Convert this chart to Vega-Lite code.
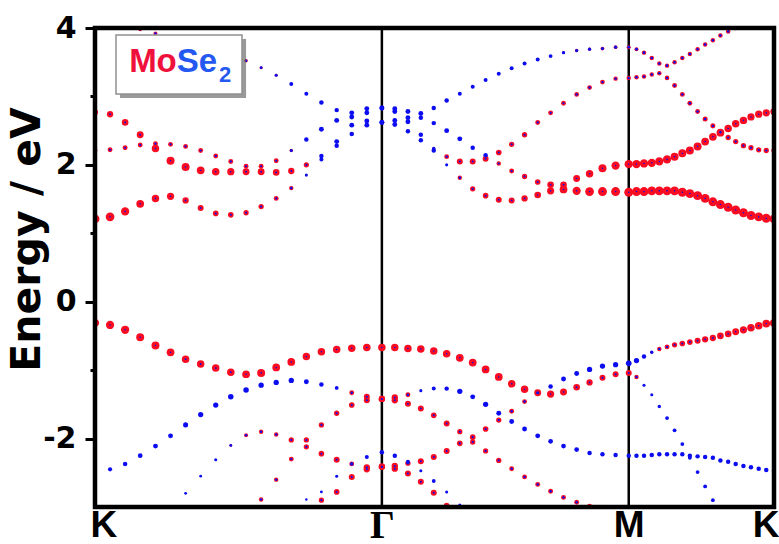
{
"$schema":"https://vega.github.io/schema/vega-lite/v6.json",
"width":679,"height":479,
"autosize":{"type":"none"},
"padding":{"left":95,"top":28,"right":5,"bottom":37},
"background":"white",
"config":{"view":{"stroke":null},"font":"Liberation Sans"},
"resolve":{"axis":{"x":"independent","y":"independent"}},
"datasets":{
"kp":[{"i":0,"k":0},{"i":1,"k":0.070},{"i":2,"k":0.140},{"i":3,"k":0.210},{"i":4,"k":0.281},{"i":5,"k":0.351},{"i":6,"k":0.421},{"i":7,"k":0.491},{"i":8,"k":0.561},{"i":9,"k":0.631},{"i":10,"k":0.702},{"i":11,"k":0.772},{"i":12,"k":0.842},{"i":13,"k":0.912},{"i":14,"k":0.982},{"i":15,"k":1.052},{"i":16,"k":1.123},{"i":17,"k":1.193},{"i":18,"k":1.263},{"i":19,"k":1.333},{"i":20,"k":1.393},{"i":21,"k":1.454},{"i":22,"k":1.514},{"i":23,"k":1.574},{"i":24,"k":1.634},{"i":25,"k":1.695},{"i":26,"k":1.755},{"i":27,"k":1.815},{"i":28,"k":1.876},{"i":29,"k":1.936},{"i":30,"k":1.996},{"i":31,"k":2.057},{"i":32,"k":2.117},{"i":33,"k":2.177},{"i":34,"k":2.238},{"i":35,"k":2.298},{"i":36,"k":2.358},{"i":37,"k":2.419},{"i":38,"k":2.480},{"i":39,"k":2.516},{"i":40,"k":2.551},{"i":41,"k":2.587},{"i":42,"k":2.622},{"i":43,"k":2.658},{"i":44,"k":2.693},{"i":45,"k":2.729},{"i":46,"k":2.764},{"i":47,"k":2.800},{"i":48,"k":2.835},{"i":49,"k":2.871},{"i":50,"k":2.906},{"i":51,"k":2.942},{"i":52,"k":2.977},{"i":53,"k":3.013},{"i":54,"k":3.048},{"i":55,"k":3.084},{"i":56,"k":3.119},{"i":57,"k":3.155}],
"sym":[{"k":1.333},{"k":2.48}],
"bands":[
{"b":"C1","i":0,"e":1.21,"m":1,"s":0.03},{"b":"C1","i":1,"e":1.24,"m":0.95,"s":0.03},{"b":"C1","i":2,"e":1.32,"m":0.85,"s":0.03},{"b":"C1","i":3,"e":1.43,"m":0.75,"s":0.03},{"b":"C1","i":4,"e":1.51,"m":0.7,"s":0.03},{"b":"C1","i":5,"e":1.54,"m":0.65,"s":0.03},{"b":"C1","i":6,"e":1.48,"m":0.5,"s":0.04},{"b":"C1","i":7,"e":1.37,"m":0.45,"s":0.04},{"b":"C1","i":8,"e":1.29,"m":0.4,"s":0.05},{"b":"C1","i":9,"e":1.27,"m":0.4,"s":0.05},{"b":"C1","i":10,"e":1.30,"m":0.35,"s":0.05},{"b":"C1","i":11,"e":1.39,"m":0.35,"s":0.06},{"b":"C1","i":12,"e":1.51,"m":0.3,"s":0.06},{"b":"C1","i":13,"e":1.66,"m":0.25,"s":0.08},{"b":"C1","i":14,"e":1.85,"m":0.05,"s":0.12},{"b":"C1","i":15,"e":2.08,"m":0,"s":0.2},{"b":"C1","i":16,"e":2.28,"m":0,"s":0.25},{"b":"C1","i":17,"e":2.45,"m":0,"s":0.25},{"b":"C1","i":18,"e":2.58,"m":0,"s":0.3},{"b":"C1","i":19,"e":2.62,"m":0,"s":0.3},{"b":"C1","i":20,"e":2.59,"m":0,"s":0.3},{"b":"C1","i":21,"e":2.49,"m":0,"s":0.25},{"b":"C1","i":22,"e":2.36,"m":0,"s":0.25},{"b":"C1","i":23,"e":2.21,"m":0,"s":0.25},{"b":"C1","i":24,"e":2.00,"m":0,"s":0.12},{"b":"C1","i":25,"e":1.81,"m":0.25,"s":0.08},{"b":"C1","i":26,"e":1.65,"m":0.35,"s":0.06},{"b":"C1","i":27,"e":1.55,"m":0.4,"s":0.05},{"b":"C1","i":28,"e":1.49,"m":0.45,"s":0.04},{"b":"C1","i":29,"e":1.48,"m":0.45,"s":0.04},{"b":"C1","i":30,"e":1.51,"m":0.5,"s":0.04},{"b":"C1","i":31,"e":1.56,"m":0.55,"s":0.03},{"b":"C1","i":32,"e":1.62,"m":0.65,"s":0.03},{"b":"C1","i":33,"e":1.64,"m":0.75,"s":0.03},{"b":"C1","i":34,"e":1.62,"m":0.85,"s":0.03},{"b":"C1","i":35,"e":1.61,"m":0.95,"s":0.03},{"b":"C1","i":36,"e":1.61,"m":1,"s":0.03},{"b":"C1","i":37,"e":1.61,"m":1,"s":0.03},{"b":"C1","i":38,"e":1.60,"m":1,"s":0.03},{"b":"C1","i":39,"e":1.61,"m":1,"s":0.03},{"b":"C1","i":40,"e":1.61,"m":1,"s":0.03},{"b":"C1","i":41,"e":1.62,"m":1,"s":0.03},{"b":"C1","i":42,"e":1.62,"m":1,"s":0.03},{"b":"C1","i":43,"e":1.62,"m":1,"s":0.03},{"b":"C1","i":44,"e":1.62,"m":1,"s":0.03},{"b":"C1","i":45,"e":1.60,"m":1,"s":0.03},{"b":"C1","i":46,"e":1.58,"m":1,"s":0.03},{"b":"C1","i":47,"e":1.55,"m":1,"s":0.03},{"b":"C1","i":48,"e":1.51,"m":1,"s":0.03},{"b":"C1","i":49,"e":1.46,"m":1,"s":0.03},{"b":"C1","i":50,"e":1.42,"m":1,"s":0.03},{"b":"C1","i":51,"e":1.38,"m":1,"s":0.03},{"b":"C1","i":52,"e":1.34,"m":1,"s":0.03},{"b":"C1","i":53,"e":1.30,"m":1,"s":0.03},{"b":"C1","i":54,"e":1.26,"m":1,"s":0.03},{"b":"C1","i":55,"e":1.24,"m":1,"s":0.03},{"b":"C1","i":56,"e":1.22,"m":1,"s":0.03},{"b":"C1","i":57,"e":1.21,"m":1,"s":0.03},
{"b":"C2","i":0,"e":2.77,"m":0.45,"s":0.04},{"b":"C2","i":1,"e":2.74,"m":0.5,"s":0.04},{"b":"C2","i":2,"e":2.62,"m":0.55,"s":0.04},{"b":"C2","i":3,"e":2.44,"m":0.6,"s":0.04},{"b":"C2","i":4,"e":2.24,"m":0.7,"s":0.03},{"b":"C2","i":5,"e":2.06,"m":0.8,"s":0.03},{"b":"C2","i":6,"e":1.97,"m":0.8,"s":0.03},{"b":"C2","i":7,"e":1.92,"m":0.75,"s":0.03},{"b":"C2","i":8,"e":1.90,"m":0.7,"s":0.03},{"b":"C2","i":9,"e":1.90,"m":0.65,"s":0.03},{"b":"C2","i":10,"e":1.90,"m":0.6,"s":0.04},{"b":"C2","i":11,"e":1.90,"m":0.6,"s":0.04},{"b":"C2","i":12,"e":1.89,"m":0.55,"s":0.04},{"b":"C2","i":13,"e":1.91,"m":0.5,"s":0.04},{"b":"C2","i":14,"e":2.00,"m":0.35,"s":0.06},{"b":"C2","i":15,"e":2.13,"m":0,"s":0.25},{"b":"C2","i":16,"e":2.34,"m":0,"s":0.3},{"b":"C2","i":17,"e":2.58,"m":0,"s":0.3},{"b":"C2","i":18,"e":2.64,"m":0,"s":0.3},{"b":"C2","i":19,"e":2.62,"m":0,"s":0.3},{"b":"C2","i":20,"e":2.65,"m":0,"s":0.3},{"b":"C2","i":21,"e":2.63,"m":0,"s":0.3},{"b":"C2","i":22,"e":2.44,"m":0,"s":0.25},{"b":"C2","i":23,"e":2.24,"m":0.1,"s":0.15},{"b":"C2","i":24,"e":2.12,"m":0.3,"s":0.07},{"b":"C2","i":25,"e":2.05,"m":0.45,"s":0.05},{"b":"C2","i":26,"e":2.05,"m":0.45,"s":0.05},{"b":"C2","i":27,"e":2.09,"m":0.45,"s":0.05},{"b":"C2","i":28,"e":2.18,"m":0.4,"s":0.05},{"b":"C2","i":29,"e":2.30,"m":0.35,"s":0.06},{"b":"C2","i":30,"e":2.44,"m":0.35,"s":0.06},{"b":"C2","i":31,"e":2.62,"m":0.3,"s":0.06},{"b":"C2","i":32,"e":2.76,"m":0.3,"s":0.06},{"b":"C2","i":33,"e":2.90,"m":0.3,"s":0.06},{"b":"C2","i":34,"e":3.03,"m":0.28,"s":0.07},{"b":"C2","i":35,"e":3.13,"m":0.28,"s":0.07},{"b":"C2","i":36,"e":3.21,"m":0.28,"s":0.07},{"b":"C2","i":37,"e":3.26,"m":0.25,"s":0.07},{"b":"C2","i":38,"e":3.27,"m":0.25,"s":0.07},{"b":"C2","i":39,"e":3.28,"m":0.25,"s":0.07},{"b":"C2","i":40,"e":3.29,"m":0.25,"s":0.07},{"b":"C2","i":41,"e":3.32,"m":0.25,"s":0.07},{"b":"C2","i":42,"e":3.34,"m":0.25,"s":0.07},{"b":"C2","i":43,"e":3.27,"m":0.28,"s":0.07},{"b":"C2","i":44,"e":3.16,"m":0.3,"s":0.07},{"b":"C2","i":45,"e":3.03,"m":0.3,"s":0.07},{"b":"C2","i":46,"e":2.90,"m":0.3,"s":0.07},{"b":"C2","i":47,"e":2.78,"m":0.3,"s":0.07},{"b":"C2","i":48,"e":2.67,"m":0.32,"s":0.07},{"b":"C2","i":49,"e":2.57,"m":0.32,"s":0.07},{"b":"C2","i":50,"e":2.48,"m":0.32,"s":0.07},{"b":"C2","i":51,"e":2.40,"m":0.35,"s":0.06},{"b":"C2","i":52,"e":2.34,"m":0.35,"s":0.06},{"b":"C2","i":53,"e":2.28,"m":0.35,"s":0.06},{"b":"C2","i":54,"e":2.25,"m":0.35,"s":0.06},{"b":"C2","i":55,"e":2.22,"m":0.35,"s":0.06},{"b":"C2","i":56,"e":2.21,"m":0.35,"s":0.06},{"b":"C2","i":57,"e":2.21,"m":0.35,"s":0.06},
{"b":"C3","i":0,"e":2.21,"m":0.3,"s":0.06},{"b":"C3","i":1,"e":2.22,"m":0.3,"s":0.06},{"b":"C3","i":2,"e":2.25,"m":0.3,"s":0.06},{"b":"C3","i":3,"e":2.29,"m":0.3,"s":0.06},{"b":"C3","i":4,"e":2.31,"m":0.3,"s":0.06},{"b":"C3","i":5,"e":2.30,"m":0.3,"s":0.06},{"b":"C3","i":6,"e":2.27,"m":0.3,"s":0.06},{"b":"C3","i":7,"e":2.21,"m":0.3,"s":0.06},{"b":"C3","i":8,"e":2.13,"m":0.3,"s":0.06},{"b":"C3","i":9,"e":2.05,"m":0.3,"s":0.06},{"b":"C3","i":10,"e":1.98,"m":0.3,"s":0.06},{"b":"C3","i":11,"e":1.98,"m":0.3,"s":0.06},{"b":"C3","i":12,"e":2.06,"m":0.3,"s":0.06},{"b":"C3","i":13,"e":2.21,"m":0.15,"s":0.12},{"b":"C3","i":14,"e":2.37,"m":0,"s":0.25},{"b":"C3","i":15,"e":2.52,"m":0,"s":0.3},{"b":"C3","i":16,"e":2.65,"m":0,"s":0.3},{"b":"C3","i":17,"e":2.70,"m":0,"s":0.3},{"b":"C3","i":18,"e":2.76,"m":0,"s":0.3},{"b":"C3","i":19,"e":2.83,"m":0,"s":0.3},{"b":"C3","i":20,"e":2.78,"m":0,"s":0.3},{"b":"C3","i":21,"e":2.69,"m":0,"s":0.3},{"b":"C3","i":22,"e":2.69,"m":0,"s":0.25},{"b":"C3","i":23,"e":2.61,"m":0,"s":0.25},{"b":"C3","i":24,"e":2.50,"m":0,"s":0.3},{"b":"C3","i":25,"e":2.38,"m":0,"s":0.3},{"b":"C3","i":26,"e":2.25,"m":0,"s":0.25},{"b":"C3","i":27,"e":2.14,"m":0,"s":0.25},{"b":"C3","i":28,"e":2.02,"m":0.25,"s":0.06},{"b":"C3","i":29,"e":1.91,"m":0.3,"s":0.06},{"b":"C3","i":30,"e":1.83,"m":0.35,"s":0.06},{"b":"C3","i":31,"e":1.75,"m":0.4,"s":0.05},{"b":"C3","i":32,"e":1.71,"m":0.55,"s":0.04},{"b":"C3","i":33,"e":1.71,"m":0.55,"s":0.04},{"b":"C3","i":34,"e":1.80,"m":0.6,"s":0.03},{"b":"C3","i":35,"e":1.87,"m":0.7,"s":0.03},{"b":"C3","i":36,"e":1.95,"m":0.8,"s":0.03},{"b":"C3","i":37,"e":1.99,"m":0.85,"s":0.03},{"b":"C3","i":38,"e":2.01,"m":0.85,"s":0.03},{"b":"C3","i":39,"e":2.01,"m":0.85,"s":0.03},{"b":"C3","i":40,"e":2.02,"m":0.85,"s":0.03},{"b":"C3","i":41,"e":2.03,"m":0.85,"s":0.03},{"b":"C3","i":42,"e":2.05,"m":0.85,"s":0.03},{"b":"C3","i":43,"e":2.08,"m":0.85,"s":0.03},{"b":"C3","i":44,"e":2.12,"m":0.8,"s":0.03},{"b":"C3","i":45,"e":2.17,"m":0.8,"s":0.03},{"b":"C3","i":46,"e":2.21,"m":0.8,"s":0.03},{"b":"C3","i":47,"e":2.27,"m":0.8,"s":0.03},{"b":"C3","i":48,"e":2.34,"m":0.75,"s":0.03},{"b":"C3","i":49,"e":2.41,"m":0.75,"s":0.03},{"b":"C3","i":50,"e":2.47,"m":0.75,"s":0.03},{"b":"C3","i":51,"e":2.53,"m":0.7,"s":0.03},{"b":"C3","i":52,"e":2.60,"m":0.7,"s":0.03},{"b":"C3","i":53,"e":2.65,"m":0.7,"s":0.03},{"b":"C3","i":54,"e":2.70,"m":0.65,"s":0.03},{"b":"C3","i":55,"e":2.74,"m":0.65,"s":0.03},{"b":"C3","i":56,"e":2.76,"m":0.65,"s":0.03},{"b":"C3","i":57,"e":2.78,"m":0.65,"s":0.03},
{"b":"C4","i":3,"e":3.98,"m":0.2,"s":0.07},{"b":"C4","i":4,"e":3.92,"m":0.2,"s":0.07},{"b":"C4","i":5,"e":3.85,"m":0.2,"s":0.07},{"b":"C4","i":6,"e":3.78,"m":0.2,"s":0.07},{"b":"C4","i":7,"e":3.70,"m":0.2,"s":0.07},{"b":"C4","i":8,"e":3.63,"m":0.2,"s":0.07},{"b":"C4","i":9,"e":3.58,"m":0.18,"s":0.08},{"b":"C4","i":10,"e":3.52,"m":0.15,"s":0.08},{"b":"C4","i":11,"e":3.42,"m":0.12,"s":0.1},{"b":"C4","i":12,"e":3.31,"m":0.1,"s":0.12},{"b":"C4","i":13,"e":3.18,"m":0,"s":0.2},{"b":"C4","i":14,"e":3.04,"m":0,"s":0.2},{"b":"C4","i":15,"e":2.91,"m":0,"s":0.25},{"b":"C4","i":16,"e":2.80,"m":0,"s":0.25},{"b":"C4","i":17,"e":2.76,"m":0,"s":0.3},{"b":"C4","i":18,"e":2.82,"m":0,"s":0.3},{"b":"C4","i":19,"e":2.83,"m":0,"s":0.3},{"b":"C4","i":20,"e":2.82,"m":0,"s":0.3},{"b":"C4","i":21,"e":2.78,"m":0,"s":0.3},{"b":"C4","i":22,"e":2.75,"m":0,"s":0.3},{"b":"C4","i":23,"e":2.83,"m":0,"s":0.25},{"b":"C4","i":24,"e":2.94,"m":0,"s":0.25},{"b":"C4","i":25,"e":3.04,"m":0,"s":0.2},{"b":"C4","i":26,"e":3.14,"m":0,"s":0.2},{"b":"C4","i":27,"e":3.24,"m":0,"s":0.2},{"b":"C4","i":28,"e":3.33,"m":0,"s":0.2},{"b":"C4","i":29,"e":3.41,"m":0,"s":0.2},{"b":"C4","i":30,"e":3.48,"m":0,"s":0.2},{"b":"C4","i":31,"e":3.54,"m":0,"s":0.2},{"b":"C4","i":32,"e":3.59,"m":0.05,"s":0.18},{"b":"C4","i":33,"e":3.64,"m":0.1,"s":0.15},{"b":"C4","i":34,"e":3.67,"m":0.15,"s":0.13},{"b":"C4","i":35,"e":3.69,"m":0.15,"s":0.13},{"b":"C4","i":36,"e":3.70,"m":0.18,"s":0.12},{"b":"C4","i":37,"e":3.72,"m":0.18,"s":0.12},{"b":"C4","i":38,"e":3.72,"m":0.2,"s":0.1},{"b":"C4","i":39,"e":3.69,"m":0.2,"s":0.1},{"b":"C4","i":40,"e":3.64,"m":0.25,"s":0.09},{"b":"C4","i":41,"e":3.56,"m":0.25,"s":0.08},{"b":"C4","i":42,"e":3.48,"m":0.25,"s":0.08},{"b":"C4","i":43,"e":3.45,"m":0.25,"s":0.08},{"b":"C4","i":44,"e":3.50,"m":0.25,"s":0.08},{"b":"C4","i":45,"e":3.56,"m":0.25,"s":0.08},{"b":"C4","i":46,"e":3.62,"m":0.25,"s":0.08},{"b":"C4","i":47,"e":3.69,"m":0.25,"s":0.08},{"b":"C4","i":48,"e":3.76,"m":0.25,"s":0.08},{"b":"C4","i":49,"e":3.82,"m":0.25,"s":0.08},{"b":"C4","i":50,"e":3.89,"m":0.25,"s":0.08},{"b":"C4","i":51,"e":3.95,"m":0.25,"s":0.08},{"b":"C4","i":52,"e":4.00,"m":0.25,"s":0.08},
{"b":"V1","i":0,"e":-0.31,"m":0.85,"s":0.03},{"b":"V1","i":1,"e":-0.34,"m":0.85,"s":0.03},{"b":"V1","i":2,"e":-0.41,"m":0.85,"s":0.03},{"b":"V1","i":3,"e":-0.52,"m":0.8,"s":0.03},{"b":"V1","i":4,"e":-0.64,"m":0.8,"s":0.03},{"b":"V1","i":5,"e":-0.74,"m":0.75,"s":0.03},{"b":"V1","i":6,"e":-0.84,"m":0.7,"s":0.04},{"b":"V1","i":7,"e":-0.91,"m":0.7,"s":0.04},{"b":"V1","i":8,"e":-0.97,"m":0.7,"s":0.04},{"b":"V1","i":9,"e":-1.03,"m":0.7,"s":0.04},{"b":"V1","i":10,"e":-1.06,"m":0.75,"s":0.03},{"b":"V1","i":11,"e":-1.04,"m":0.8,"s":0.03},{"b":"V1","i":12,"e":-0.96,"m":0.75,"s":0.03},{"b":"V1","i":13,"e":-0.88,"m":0.75,"s":0.03},{"b":"V1","i":14,"e":-0.80,"m":0.7,"s":0.03},{"b":"V1","i":15,"e":-0.73,"m":0.7,"s":0.03},{"b":"V1","i":16,"e":-0.70,"m":0.7,"s":0.03},{"b":"V1","i":17,"e":-0.68,"m":0.7,"s":0.03},{"b":"V1","i":18,"e":-0.67,"m":0.7,"s":0.03},{"b":"V1","i":19,"e":-0.67,"m":0.7,"s":0.03},{"b":"V1","i":20,"e":-0.67,"m":0.7,"s":0.03},{"b":"V1","i":21,"e":-0.685,"m":0.7,"s":0.03},{"b":"V1","i":22,"e":-0.69,"m":0.7,"s":0.03},{"b":"V1","i":23,"e":-0.72,"m":0.7,"s":0.03},{"b":"V1","i":24,"e":-0.76,"m":0.7,"s":0.03},{"b":"V1","i":25,"e":-0.82,"m":0.75,"s":0.03},{"b":"V1","i":26,"e":-0.89,"m":0.75,"s":0.03},{"b":"V1","i":27,"e":-0.99,"m":0.75,"s":0.03},{"b":"V1","i":28,"e":-1.10,"m":0.75,"s":0.03},{"b":"V1","i":29,"e":-1.20,"m":0.7,"s":0.03},{"b":"V1","i":30,"e":-1.28,"m":0.7,"s":0.03},{"b":"V1","i":31,"e":-1.33,"m":0.6,"s":0.04},{"b":"V1","i":32,"e":-1.35,"m":0.65,"s":0.03},{"b":"V1","i":33,"e":-1.32,"m":0.6,"s":0.03},{"b":"V1","i":34,"e":-1.25,"m":0.55,"s":0.04},{"b":"V1","i":35,"e":-1.18,"m":0.5,"s":0.04},{"b":"V1","i":36,"e":-1.11,"m":0.45,"s":0.05},{"b":"V1","i":37,"e":-1.06,"m":0.45,"s":0.05},{"b":"V1","i":38,"e":-1.04,"m":0.45,"s":0.05},{"b":"V1","i":39,"e":-1.10,"m":0.25,"s":0.07},{"b":"V1","i":40,"e":-1.22,"m":0,"s":0.12},{"b":"V1","i":41,"e":-1.36,"m":0,"s":0.12},{"b":"V1","i":42,"e":-1.53,"m":0,"s":0.15},{"b":"V1","i":43,"e":-1.70,"m":0,"s":0.18},{"b":"V1","i":44,"e":-1.88,"m":0,"s":0.18},{"b":"V1","i":45,"e":-2.08,"m":0,"s":0.18},{"b":"V1","i":46,"e":-2.28,"m":0,"s":0.18},{"b":"V1","i":47,"e":-2.49,"m":0,"s":0.18},{"b":"V1","i":48,"e":-2.70,"m":0,"s":0.18},{"b":"V1","i":49,"e":-2.90,"m":0,"s":0.18},
{"b":"V2","i":0,"e":-2.47,"m":0,"s":0.2},{"b":"V2","i":1,"e":-2.45,"m":0,"s":0.22},{"b":"V2","i":2,"e":-2.37,"m":0,"s":0.25},{"b":"V2","i":3,"e":-2.25,"m":0,"s":0.28},{"b":"V2","i":4,"e":-2.11,"m":0,"s":0.3},{"b":"V2","i":5,"e":-1.96,"m":0,"s":0.3},{"b":"V2","i":6,"e":-1.80,"m":0,"s":0.32},{"b":"V2","i":7,"e":-1.65,"m":0,"s":0.35},{"b":"V2","i":8,"e":-1.51,"m":0,"s":0.35},{"b":"V2","i":9,"e":-1.39,"m":0,"s":0.38},{"b":"V2","i":10,"e":-1.29,"m":0,"s":0.38},{"b":"V2","i":11,"e":-1.22,"m":0,"s":0.35},{"b":"V2","i":12,"e":-1.18,"m":0,"s":0.35},{"b":"V2","i":13,"e":-1.15,"m":0,"s":0.35},{"b":"V2","i":14,"e":-1.17,"m":0,"s":0.3},{"b":"V2","i":15,"e":-1.21,"m":0,"s":0.25},{"b":"V2","i":16,"e":-1.26,"m":0,"s":0.18},{"b":"V2","i":17,"e":-1.33,"m":0.3,"s":0.07},{"b":"V2","i":18,"e":-1.39,"m":0.45,"s":0.05},{"b":"V2","i":19,"e":-1.42,"m":0.5,"s":0.04},{"b":"V2","i":20,"e":-1.40,"m":0.5,"s":0.04},{"b":"V2","i":21,"e":-1.36,"m":0.3,"s":0.08},{"b":"V2","i":22,"e":-1.30,"m":0,"s":0.12},{"b":"V2","i":23,"e":-1.27,"m":0,"s":0.2},{"b":"V2","i":24,"e":-1.27,"m":0,"s":0.25},{"b":"V2","i":25,"e":-1.31,"m":0,"s":0.35},{"b":"V2","i":26,"e":-1.39,"m":0,"s":0.3},{"b":"V2","i":27,"e":-1.50,"m":0,"s":0.35},{"b":"V2","i":28,"e":-1.63,"m":0,"s":0.3},{"b":"V2","i":29,"e":-1.75,"m":0,"s":0.3},{"b":"V2","i":30,"e":-1.86,"m":0,"s":0.3},{"b":"V2","i":31,"e":-1.96,"m":0,"s":0.3},{"b":"V2","i":32,"e":-2.04,"m":0,"s":0.28},{"b":"V2","i":33,"e":-2.11,"m":0,"s":0.28},{"b":"V2","i":34,"e":-2.16,"m":0,"s":0.28},{"b":"V2","i":35,"e":-2.21,"m":0,"s":0.25},{"b":"V2","i":36,"e":-2.23,"m":0,"s":0.25},{"b":"V2","i":37,"e":-2.24,"m":0,"s":0.25},{"b":"V2","i":38,"e":-2.25,"m":0,"s":0.25},{"b":"V2","i":39,"e":-2.25,"m":0,"s":0.25},{"b":"V2","i":40,"e":-2.25,"m":0,"s":0.25},{"b":"V2","i":41,"e":-2.24,"m":0,"s":0.25},{"b":"V2","i":42,"e":-2.23,"m":0,"s":0.25},{"b":"V2","i":43,"e":-2.23,"m":0,"s":0.25},{"b":"V2","i":44,"e":-2.23,"m":0,"s":0.25},{"b":"V2","i":45,"e":-2.23,"m":0,"s":0.25},{"b":"V2","i":46,"e":-2.25,"m":0,"s":0.25},{"b":"V2","i":47,"e":-2.26,"m":0,"s":0.25},{"b":"V2","i":48,"e":-2.27,"m":0,"s":0.25},{"b":"V2","i":49,"e":-2.28,"m":0,"s":0.25},{"b":"V2","i":50,"e":-2.32,"m":0,"s":0.25},{"b":"V2","i":51,"e":-2.34,"m":0,"s":0.25},{"b":"V2","i":52,"e":-2.37,"m":0,"s":0.25},{"b":"V2","i":53,"e":-2.40,"m":0,"s":0.25},{"b":"V2","i":54,"e":-2.42,"m":0,"s":0.25},{"b":"V2","i":55,"e":-2.44,"m":0,"s":0.25},{"b":"V2","i":56,"e":-2.46,"m":0,"s":0.25},{"b":"V2","i":57,"e":-2.47,"m":0,"s":0.25},
{"b":"V4","i":11,"e":-2.89,"m":0.25,"s":0.07},{"b":"V4","i":12,"e":-2.60,"m":0.25,"s":0.07},{"b":"V4","i":13,"e":-2.30,"m":0.3,"s":0.06},{"b":"V4","i":14,"e":-2.02,"m":0.35,"s":0.05},{"b":"V4","i":15,"e":-1.80,"m":0.35,"s":0.06},{"b":"V4","i":16,"e":-1.63,"m":0.35,"s":0.06},{"b":"V4","i":17,"e":-1.51,"m":0.4,"s":0.05},{"b":"V4","i":18,"e":-1.44,"m":0.45,"s":0.05},{"b":"V4","i":19,"e":-1.42,"m":0.5,"s":0.04},{"b":"V4","i":20,"e":-1.44,"m":0.5,"s":0.04},{"b":"V4","i":21,"e":-1.49,"m":0.45,"s":0.04},{"b":"V4","i":22,"e":-1.56,"m":0.45,"s":0.04},{"b":"V4","i":23,"e":-1.66,"m":0.4,"s":0.05},{"b":"V4","i":24,"e":-1.78,"m":0.45,"s":0.04},{"b":"V4","i":25,"e":-1.90,"m":0.35,"s":0.06},{"b":"V4","i":26,"e":-2.05,"m":0.35,"s":0.06},{"b":"V4","i":27,"e":-2.18,"m":0.35,"s":0.06},{"b":"V4","i":28,"e":-2.32,"m":0.35,"s":0.06},{"b":"V4","i":29,"e":-2.44,"m":0.3,"s":0.07},{"b":"V4","i":30,"e":-2.56,"m":0.3,"s":0.07},{"b":"V4","i":31,"e":-2.67,"m":0.3,"s":0.07},{"b":"V4","i":32,"e":-2.77,"m":0.3,"s":0.07},{"b":"V4","i":33,"e":-2.86,"m":0.3,"s":0.07},{"b":"V4","i":34,"e":-2.93,"m":0.3,"s":0.07},{"b":"V4","i":35,"e":-2.99,"m":0.3,"s":0.07},{"b":"V4","i":36,"e":-3.02,"m":0.3,"s":0.07},
{"b":"V3","i":6,"e":-2.80,"m":0,"s":0.1},{"b":"V3","i":7,"e":-2.55,"m":0,"s":0.1},{"b":"V3","i":8,"e":-2.31,"m":0,"s":0.12},{"b":"V3","i":9,"e":-2.10,"m":0.1,"s":0.1},{"b":"V3","i":10,"e":-1.95,"m":0.2,"s":0.07},{"b":"V3","i":11,"e":-1.90,"m":0.25,"s":0.07},{"b":"V3","i":12,"e":-1.94,"m":0.25,"s":0.07},{"b":"V3","i":13,"e":-2.02,"m":0.35,"s":0.06},{"b":"V3","i":14,"e":-2.12,"m":0.35,"s":0.06},{"b":"V3","i":15,"e":-2.22,"m":0.4,"s":0.05},{"b":"V3","i":16,"e":-2.31,"m":0.45,"s":0.05},{"b":"V3","i":17,"e":-2.37,"m":0.3,"s":0.1},{"b":"V3","i":18,"e":-2.42,"m":0.5,"s":0.05},{"b":"V3","i":19,"e":-2.41,"m":0.5,"s":0.05},{"b":"V3","i":20,"e":-2.40,"m":0.5,"s":0.05},{"b":"V3","i":21,"e":-2.36,"m":0.35,"s":0.1},{"b":"V3","i":22,"e":-2.33,"m":0.45,"s":0.05},{"b":"V3","i":23,"e":-2.27,"m":0.45,"s":0.05},{"b":"V3","i":24,"e":-2.18,"m":0.45,"s":0.05},{"b":"V3","i":25,"e":-2.07,"m":0.4,"s":0.06},{"b":"V3","i":26,"e":-1.98,"m":0.4,"s":0.06},{"b":"V3","i":27,"e":-1.86,"m":0.4,"s":0.06},{"b":"V3","i":28,"e":-1.73,"m":0.35,"s":0.06},{"b":"V3","i":29,"e":-1.60,"m":0.3,"s":0.08},{"b":"V3","i":30,"e":-1.46,"m":0.3,"s":0.08},{"b":"V3","i":31,"e":-1.33,"m":0.2,"s":0.12},{"b":"V3","i":32,"e":-1.24,"m":0,"s":0.25},{"b":"V3","i":33,"e":-1.13,"m":0,"s":0.3},{"b":"V3","i":34,"e":-1.05,"m":0,"s":0.3},{"b":"V3","i":35,"e":-0.99,"m":0,"s":0.35},{"b":"V3","i":36,"e":-0.94,"m":0,"s":0.35},{"b":"V3","i":37,"e":-0.92,"m":0,"s":0.35},{"b":"V3","i":38,"e":-0.90,"m":0,"s":0.4},{"b":"V3","i":39,"e":-0.86,"m":0,"s":0.35},{"b":"V3","i":40,"e":-0.80,"m":0,"s":0.25},{"b":"V3","i":41,"e":-0.74,"m":0.1,"s":0.15},{"b":"V3","i":42,"e":-0.69,"m":0.25,"s":0.07},{"b":"V3","i":43,"e":-0.66,"m":0.3,"s":0.06},{"b":"V3","i":44,"e":-0.63,"m":0.35,"s":0.05},{"b":"V3","i":45,"e":-0.61,"m":0.4,"s":0.05},{"b":"V3","i":46,"e":-0.59,"m":0.4,"s":0.05},{"b":"V3","i":47,"e":-0.57,"m":0.45,"s":0.04},{"b":"V3","i":48,"e":-0.55,"m":0.5,"s":0.04},{"b":"V3","i":49,"e":-0.53,"m":0.5,"s":0.04},{"b":"V3","i":50,"e":-0.50,"m":0.55,"s":0.03},{"b":"V3","i":51,"e":-0.47,"m":0.55,"s":0.03},{"b":"V3","i":52,"e":-0.44,"m":0.6,"s":0.03},{"b":"V3","i":53,"e":-0.41,"m":0.65,"s":0.03},{"b":"V3","i":54,"e":-0.38,"m":0.7,"s":0.03},{"b":"V3","i":55,"e":-0.35,"m":0.7,"s":0.03},{"b":"V3","i":56,"e":-0.32,"m":0.75,"s":0.03},{"b":"V3","i":57,"e":-0.31,"m":0.8,"s":0.03},
{"b":"V5","i":14,"e":-2.89,"m":0,"s":0.08},{"b":"V5","i":15,"e":-2.78,"m":0,"s":0.1},{"b":"V5","i":16,"e":-2.55,"m":0,"s":0.12},{"b":"V5","i":17,"e":-2.37,"m":0,"s":0.15},{"b":"V5","i":18,"e":-2.27,"m":0,"s":0.2},{"b":"V5","i":19,"e":-2.20,"m":0,"s":0.25},{"b":"V5","i":20,"e":-2.25,"m":0,"s":0.25},{"b":"V5","i":21,"e":-2.34,"m":0,"s":0.2},{"b":"V5","i":22,"e":-2.47,"m":0,"s":0.12},{"b":"V5","i":23,"e":-2.62,"m":0,"s":0.18},{"b":"V5","i":24,"e":-2.78,"m":0,"s":0.12},{"b":"V5","i":25,"e":-2.97,"m":0,"s":0.12},
{"b":"V6","i":15,"e":-2.90,"m":0.35,"s":0.06},{"b":"V6","i":16,"e":-2.78,"m":0.4,"s":0.05},{"b":"V6","i":17,"e":-2.56,"m":0.45,"s":0.05},{"b":"V6","i":18,"e":-2.45,"m":0.5,"s":0.05},{"b":"V6","i":19,"e":-2.41,"m":0.5,"s":0.05},{"b":"V6","i":20,"e":-2.44,"m":0.5,"s":0.05},{"b":"V6","i":21,"e":-2.51,"m":0.45,"s":0.05},{"b":"V6","i":22,"e":-2.63,"m":0.45,"s":0.05},{"b":"V6","i":23,"e":-2.79,"m":0.45,"s":0.05},{"b":"V6","i":24,"e":-2.98,"m":0.4,"s":0.05}
]},
"layer":[
{"data":{"name":"sym"},"mark":{"type":"rule","color":"black","strokeWidth":2.5},
 "encoding":{"x":{"field":"k","type":"quantitative","scale":{"domain":[0,3.155],"nice":false,"zero":false},
  "axis":{"orient":"bottom","values":[2.48],"labelExpr":"'M'","title":null,"domain":false,"ticks":false,"grid":false,"labelFontSize":37,"labelFontWeight":"bold","labelFont":"Liberation Sans","labelColor":"black","labelPadding":0}}}},
{"data":{"name":"bands"},
 "transform":[{"lookup":"i","from":{"data":{"name":"kp"},"key":"i","fields":["k"]}}],
 "mark":{"type":"circle","color":"#f80c22","opacity":1,"clip":true},
 "encoding":{
  "x":{"field":"k","type":"quantitative","scale":{"domain":[0,3.155],"nice":false,"zero":false},
   "axis":{"orient":"bottom","values":[0,3.155],"labelExpr":"'K'","title":null,"domain":false,"ticks":false,"grid":false,"labelFontSize":37,"labelFontWeight":"bold","labelFont":"Liberation Sans","labelColor":"black","labelPadding":0,"labelFlush":true,"labelFlushOffset":5}},
  "y":{"field":"e","type":"quantitative","scale":{"domain":[-3,4],"nice":false,"zero":false},
   "axis":{"orient":"left","values":[-2,0,2,4],"labelExpr":"'' + datum.value","title":"Energy / eV","domain":false,"grid":false,"ticks":true,"tickColor":"black","tickWidth":3,"tickSize":10,"labelFontSize":30,"labelFontWeight":"bold","labelFont":"DejaVu Sans","labelColor":"black","labelPadding":9,"titleFont":"DejaVu Sans","titleFontSize":41,"titleFontWeight":"bold","titleColor":"black","titleX":-68,"titleY":211,"titleAngle":270,"titleAlign":"center","titleBaseline":"middle"}},
  "size":{"field":"m","type":"quantitative","scale":{"domain":[0,1],"range":[0,80]},"legend":null}}},
{"data":{"name":"bands"},
 "transform":[{"lookup":"i","from":{"data":{"name":"kp"},"key":"i","fields":["k"]}}],
 "mark":{"type":"circle","color":"#0c0cf0","opacity":1,"clip":true},
 "encoding":{
  "x":{"field":"k","type":"quantitative","scale":{"domain":[0,3.155],"nice":false,"zero":false},
   "axis":{"orient":"bottom","values":[1.333],"labelExpr":"'Γ'","title":null,"domain":false,"ticks":false,"grid":false,"labelFontSize":39,"labelFontWeight":"bold","labelFont":"Liberation Serif","labelColor":"black","labelPadding":-1}},
  "y":{"field":"e","type":"quantitative","scale":{"domain":[-3,4],"nice":false,"zero":false},
   "axis":{"orient":"left","values":[-1,1,3],"labels":false,"title":null,"domain":false,"grid":false,"ticks":true,"tickColor":"black","tickWidth":3,"tickSize":5}},
  "size":{"field":"s","type":"quantitative","scale":{"domain":[0,1],"range":[0,80]},"legend":null}}},
{"data":{"values":[{}]},"mark":{"type":"rect","filled":false,"stroke":"black","strokeWidth":4.5},
 "encoding":{"x":{"datum":0,"type":"quantitative","axis":null},"x2":{"datum":3.155},"y":{"datum":-3,"type":"quantitative","axis":null},"y2":{"datum":4}}},
{"data":{"values":[{}]},"mark":{"type":"rect","fill":"#555555","opacity":0.6},
 "encoding":{"x":{"datum":0.116,"type":"quantitative","axis":null},"x2":{"datum":0.702},"y":{"datum":2.977,"type":"quantitative","axis":null},"y2":{"datum":3.839}}},
{"data":{"values":[{}]},"mark":{"type":"rect","fill":"white","stroke":"#909090","strokeWidth":1.5},
 "encoding":{"x":{"datum":0.0976,"type":"quantitative","axis":null},"x2":{"datum":0.683},"y":{"datum":3.035,"type":"quantitative","axis":null},"y2":{"datum":3.898}}},
{"data":{"values":[{}]},"mark":{"type":"text","text":"Mo","align":"right","baseline":"alphabetic","font":"Liberation Sans","fontWeight":"bold","fontSize":33,"color":"#f0103c"},
 "encoding":{"x":{"datum":0.380,"type":"quantitative","axis":null},"y":{"datum":3.357,"type":"quantitative","axis":null}}},
{"data":{"values":[{}]},"mark":{"type":"text","text":"Se","align":"left","baseline":"alphabetic","font":"Liberation Sans","fontWeight":"bold","fontSize":33,"color":"#2458f0"},
 "encoding":{"x":{"datum":0.380,"type":"quantitative","axis":null},"y":{"datum":3.357,"type":"quantitative","axis":null}}},
{"data":{"values":[{}]},"mark":{"type":"text","text":"2","align":"left","baseline":"alphabetic","font":"Liberation Sans","fontWeight":"bold","fontSize":22,"color":"#2458f0"},
 "encoding":{"x":{"datum":0.576,"type":"quantitative","axis":null},"y":{"datum":3.211,"type":"quantitative","axis":null}}}
]
}
